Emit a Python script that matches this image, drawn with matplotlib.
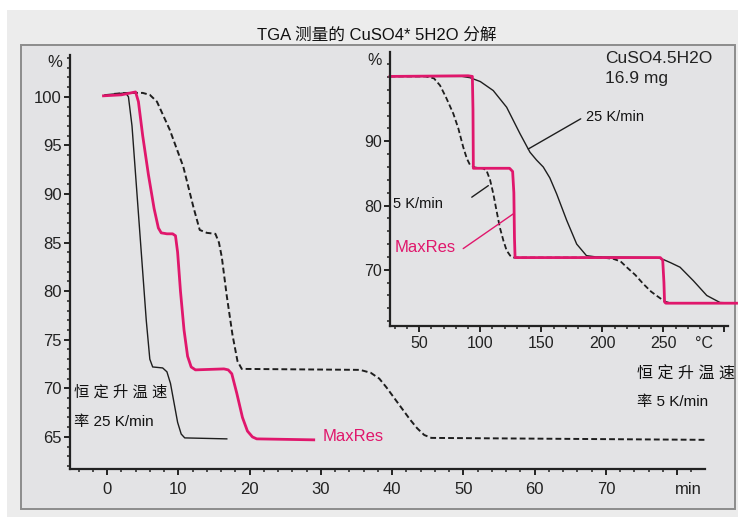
import matplotlib
matplotlib.use("Agg")
import matplotlib.pyplot as plt
from matplotlib.patches import Rectangle
from matplotlib.ticker import MultipleLocator, FixedLocator

plt.rcParams['font.family'] = ['Liberation Sans', 'Noto Sans CJK SC', 'DejaVu Sans']

# ---- main panel: mass (%) vs time (min) ----
t_25 = [-0.3, 2.6, 3.0, 3.5, 4.1, 4.8, 5.5, 6.0, 6.4, 7.8, 8.4, 8.9, 9.4, 9.9, 10.4, 10.9, 16.8]
w_25 = [100.2, 100.4, 100.0, 97.0, 91.0, 84.0, 77.0, 73.0, 72.2, 72.1, 71.7, 70.5, 68.5, 66.5, 65.3, 64.9, 64.8]

t_maxres = [-0.5, 2.0, 4.0, 4.4, 5.0, 5.8, 6.6, 7.2, 7.6, 8.4, 9.2, 9.6, 9.9, 10.3, 10.8, 11.3, 11.8, 12.4,
            16.4, 17.0, 17.5, 18.2, 19.0, 19.7, 20.4, 21.0, 29.0]
w_maxres = [100.1, 100.2, 100.5, 99.5, 96.0, 92.0, 88.5, 86.5, 86.0, 85.9, 85.9, 85.7, 84.0, 80.0, 76.0, 73.3, 72.2, 71.9,
            72.0, 71.9, 71.5, 69.5, 67.0, 65.6, 65.0, 64.8, 64.7]

t_5 = [1.0, 3.0, 5.0, 6.0, 7.0, 8.8, 10.7, 12.1, 13.0, 14.0, 15.2, 15.7, 16.1, 16.8, 17.6, 18.3, 18.9,
       35.5, 37.0, 38.2, 39.2, 40.5, 41.5, 42.5, 43.5, 44.5, 45.5, 84.0]
w_5 = [100.3, 100.4, 100.4, 100.2, 99.5, 96.6, 92.8, 88.7, 86.3, 86.0, 85.9, 85.0, 83.5, 79.5, 75.5, 72.8, 72.0,
       71.9, 71.6, 71.0, 70.1, 68.8, 67.8, 66.8, 65.9, 65.2, 64.9, 64.7]

# ---- inset: mass (%) vs temperature (degC) ----
T_maxres = [26, 90, 93.5, 94.0, 94.3, 100, 124, 126.5, 127.5, 128.0, 128.5, 200, 247.5, 249.5, 250.5, 251.0, 252, 310]
m_maxres = [100.1, 100.2, 100.1, 95.0, 85.8, 85.8, 85.8, 85.3, 82.0, 75.0, 71.9, 71.9, 71.9, 71.5, 68.0, 65.0, 64.8, 64.8]

T_5 = [26, 55, 62, 67, 72, 77.9, 82, 86, 89, 91.6, 96, 102, 105, 108, 110.7, 113, 116, 119, 121.6, 124.5, 127,
       200, 209, 215, 220, 227, 233.6, 240, 245, 248.7, 252, 256]
m_5 = [100.1, 100.1, 99.8, 98.7, 96.8, 94.3, 92.0, 89.1, 87.3, 86.3, 85.9, 85.8, 85.5, 84.0, 81.8, 79.5, 76.6, 74.5, 73.0, 72.2, 71.9,
       71.9, 71.7, 71.3, 70.4, 69.2, 67.8, 66.6, 65.9, 65.4, 65.0, 64.8]

T_25 = [26, 85, 91.6, 100, 110.6, 121.6, 132.5, 140.7, 146, 151.6, 157, 162.6, 170.8, 179, 187, 195,
        245, 250, 256, 263.7, 274.6, 285.6, 296.5, 310]
m_25 = [100.1, 100.1, 99.9, 99.3, 97.9, 95.3, 91.2, 88.3, 87.1, 86.0, 84.3, 81.8, 77.7, 74.0, 72.2, 72.0,
        71.9, 71.6, 71.1, 70.4, 68.3, 66.0, 64.9, 64.8]

main_yticks = [65, 70, 75, 80, 85, 90, 95, 100]
main_xticks = [0, 10, 20, 30, 40, 50, 60, 70, 80]
main_xlabels = ['0', '10', '20', '30', '40', '50', '60', '70', '']
inset_yticks = [70, 80, 90]
inset_xticks = [50, 100, 150, 200, 250, 300]
inset_xlabels = ['50', '100', '150', '200', '250', '']

PINK = '#e0176c'
BLACK = '#1e1e1e'
AXC = '#222222'
W, H = 738, 517


def fx(px):
    return px / W


def fy(py):
    return 1 - py / H


fig = plt.figure(figsize=(W / 100, H / 100), dpi=100, facecolor='white')

# panel backgrounds and frame
fig.patches.append(Rectangle((fx(7), 0), 1 - fx(7), fy(10),
                             transform=fig.transFigure, facecolor='#ececec', edgecolor='none', zorder=-3))
fig.patches.append(Rectangle((fx(21), fy(509)), fx(735 - 21), fy(45) - fy(509),
                             transform=fig.transFigure, facecolor='#e3e3e5', edgecolor='#8c8c8c',
                             linewidth=1.4, zorder=-2))

fig.text(fx(377), fy(35), 'TGA 测量的 CuSO4* 5H2O 分解', ha='center', va='center',
         fontsize=12, color='#111111')


def style_axes(a, labelsize):
    a.patch.set_alpha(0)
    for s in ['top', 'right']:
        a.spines[s].set_visible(False)
    for s in ['left', 'bottom']:
        a.spines[s].set_linewidth(1.6)
        a.spines[s].set_color(AXC)
    a.tick_params(axis='both', which='major', length=4, width=1.4, colors=AXC,
                  labelsize=labelsize, labelcolor=AXC)
    a.tick_params(axis='both', which='minor', length=2.5, width=1.1, colors=AXC)


# ---- main axes ----
ax = fig.add_axes([fx(70), fy(469), fx(705 - 70), fy(55) - fy(469)])
ax.set_xlim(-5.2, 83.9)
ax.set_ylim(61.7, 104.3)
style_axes(ax, 12)

ax.plot(t_5, w_5, color=BLACK, lw=1.4, ls=(0, (3.0, 1.6)))
ax.plot(t_25, w_25, color=BLACK, lw=1.0)
ax.plot(t_maxres, w_maxres, color=PINK, lw=2.0)

ax.yaxis.set_major_locator(FixedLocator(main_yticks))
ax.yaxis.set_minor_locator(MultipleLocator(1))
ax.xaxis.set_major_locator(FixedLocator(main_xticks))
ax.set_xticklabels(main_xlabels)
ax.xaxis.set_minor_locator(MultipleLocator(2))
ax.tick_params(axis='x', which='major', pad=5)
ax.tick_params(axis='y', which='major', pad=2)

ax.text(-6.3, 103.5, '%', ha='right', va='center', fontsize=12, color=AXC)
ax.text(83.5, 59.6, 'min', ha='right', va='center', fontsize=12, color=AXC)
ax.text(30.3, 65.0, 'MaxRes', ha='left', va='center', fontsize=12, color=PINK)
ax.text(-4.6, 69.6, '恒 定 升 温 速', ha='left', va='center', fontsize=11, color='#111111')
ax.text(-4.6, 66.5, '率 25 K/min', ha='left', va='center', fontsize=11, color='#111111')

# ---- inset axes ----
ins = fig.add_axes([fx(390), fy(326), fx(728 - 390), fy(52) - fy(326)])
ins.set_xlim(26, 303)
ins.set_ylim(61.25, 103.9)
style_axes(ins, 11.5)

ins.plot(T_5, m_5, color=BLACK, lw=1.3, ls=(0, (3.0, 1.6)))
ins.plot(T_25, m_25, color=BLACK, lw=1.0, clip_on=False)
ins.plot(T_maxres, m_maxres, color=PINK, lw=2.0, clip_on=False)

ins.yaxis.set_major_locator(FixedLocator(inset_yticks))
ins.yaxis.set_minor_locator(MultipleLocator(2))
ins.xaxis.set_major_locator(FixedLocator(inset_xticks))
ins.set_xticklabels(inset_xlabels)
ins.xaxis.set_minor_locator(MultipleLocator(10))
ins.tick_params(axis='x', which='major', pad=3)
ins.tick_params(axis='y', which='major', pad=2)

ins.text(19, 102.6, '%', ha='right', va='center', fontsize=11.5, color=AXC)
ins.text(283, 58.5, '°C', ha='center', va='center', fontsize=11.5, color=AXC)
ins.text(202, 102.9, 'CuSO4.5H2O', ha='left', va='center', fontsize=12.5, color=AXC)
ins.text(202, 99.7, '16.9 mg', ha='left', va='center', fontsize=12.5, color=AXC)

ins.annotate('', xy=(139.3, 88.8), xytext=(182.3, 93.5),
             arrowprops=dict(arrowstyle='-', color=BLACK, lw=1.0, shrinkA=0, shrinkB=0))
ins.text(186.5, 93.8, '25 K/min', ha='left', va='center', fontsize=10.5, color='#111111')
ins.annotate('', xy=(106.6, 83.1), xytext=(93, 81.3),
             arrowprops=dict(arrowstyle='-', color=BLACK, lw=1.0, shrinkA=0, shrinkB=0))
ins.text(28.5, 80.3, '5 K/min', ha='left', va='center', fontsize=10.5, color='#111111')
ins.annotate('', xy=(127, 78.7), xytext=(86, 73.3),
             arrowprops=dict(arrowstyle='-', color=PINK, lw=1.0, shrinkA=0, shrinkB=0))
ins.text(29.5, 73.4, 'MaxRes', ha='left', va='center', fontsize=12, color=PINK)

fig.text(fx(637), fy(374), '恒 定 升 温 速', ha='left', va='center', fontsize=11.5, color='#111111')
fig.text(fx(637), fy(402), '率 5 K/min', ha='left', va='center', fontsize=11, color='#111111')

fig.savefig('out.png', dpi=100, facecolor=fig.get_facecolor())
